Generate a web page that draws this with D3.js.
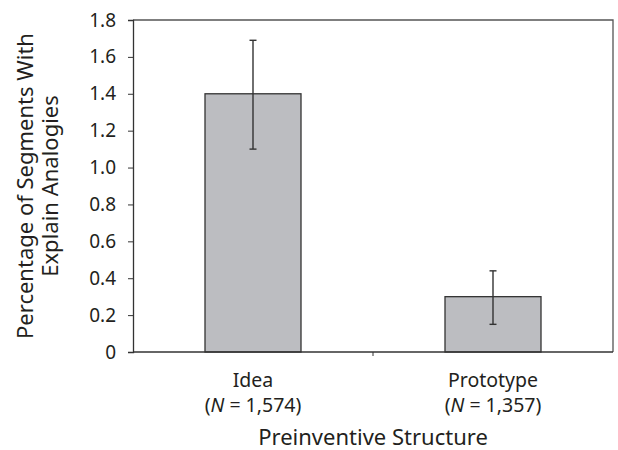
<!DOCTYPE html>
<html>
<head>
<meta charset="utf-8">
<script src="https://cdn.jsdelivr.net/npm/d3@7"></script>
<style>
  body { margin: 0; background: #fff; }
  text { font-family: "Noto Sans", sans-serif; fill: #231f20; }
</style>
</head>
<body>
<div id="chart"></div>
<script>
// chart values
const categories = ["Idea", "Prototype"];
const sampleSizes = ["1,574", "1,357"];
const means = [1.40, 0.30];
const errLow = [1.10, 0.15];
const errHigh = [1.69, 0.44];
const yTicks = [0, 0.2, 0.4, 0.6, 0.8, 1.0, 1.2, 1.4, 1.6, 1.8];
const yTickLabels = ["0", "0.2", "0.4", "0.6", "0.8", "1.0", "1.2", "1.4", "1.6", "1.8"];

const width = 618;
const height = 450;
const margin = { top: 20, right: 5, bottom: 98, left: 133 };
const innerW = width - margin.left - margin.right;
const innerH = height - margin.top - margin.bottom;

const data = categories.map((c, i) => ({
  cat: c, n: sampleSizes[i], mean: means[i], lo: errLow[i], hi: errHigh[i]
}));

const svg = d3.select("#chart")
  .append("svg")
  .attr("width", width)
  .attr("height", height);

const g = svg.append("g")
  .attr("transform", `translate(${margin.left}, ${margin.top})`);

const x = d3.scaleBand().domain(categories).range([0, innerW]).paddingInner(0.6).paddingOuter(0.3);
const y = d3.scaleLinear().domain([0, 1.8]).range([innerH, 0]);

// plot frame (top and right)
g.append("path")
  .attr("d", `M0,0H${innerW}V${innerH}`)
  .attr("fill", "none")
  .attr("stroke", "#555")
  .attr("stroke-width", 1.3);

// y axis
const yAxis = g.append("g")
  .call(d3.axisLeft(y).tickValues(yTicks).tickFormat((d, i) => yTickLabels[i]).tickSizeOuter(0).tickSize(5).tickPadding(12));
yAxis.select(".domain").attr("stroke", "#333").attr("stroke-width", 1.3);
yAxis.selectAll(".tick line").attr("stroke", "#333");
yAxis.selectAll("text").attr("font-size", 19).style("font-family", "Noto Sans").attr("fill", "#231f20");

// bars
g.selectAll(".bar")
  .data(data)
  .enter()
  .append("rect")
  .attr("class", "bar")
  .attr("x", d => x(d.cat))
  .attr("y", d => y(d.mean))
  .attr("width", x.bandwidth())
  .attr("height", d => innerH - y(d.mean))
  .attr("fill", "#bcbdc1")
  .attr("stroke", "#333")
  .attr("stroke-width", 1.3);

// error bars
const err = g.selectAll(".err")
  .data(data)
  .enter()
  .append("g")
  .attr("class", "err")
  .attr("stroke", "#333")
  .attr("stroke-width", 1.4);

const cx = d => x(d.cat) + x.bandwidth() / 2;
err.append("line")
  .attr("x1", cx).attr("x2", cx)
  .attr("y1", d => y(d.lo)).attr("y2", d => y(d.hi));
err.append("line")
  .attr("x1", d => cx(d) - 3.5).attr("x2", d => cx(d) + 3.5)
  .attr("y1", d => y(d.hi)).attr("y2", d => y(d.hi));
err.append("line")
  .attr("x1", d => cx(d) - 3.5).attr("x2", d => cx(d) + 3.5)
  .attr("y1", d => y(d.lo)).attr("y2", d => y(d.lo));

// x axis (line with tick between categories)
const xAxis = g.append("g").attr("transform", `translate(0, ${innerH})`);
xAxis.append("line")
  .attr("x1", 0).attr("x2", innerW)
  .attr("stroke", "#333").attr("stroke-width", 1.3);
xAxis.append("line")
  .attr("x1", innerW / 2).attr("x2", innerW / 2)
  .attr("y1", 0).attr("y2", 4)
  .attr("stroke", "#333");

// category labels
const lab = xAxis.selectAll(".lab")
  .data(data)
  .enter()
  .append("text")
  .attr("class", "lab")
  .attr("text-anchor", "middle")
  .attr("font-size", 19.5)
  .attr("x", cx);
lab.append("tspan").attr("x", cx).attr("y", 35).text(d => d.cat);
const nl = lab.append("tspan").attr("x", cx).attr("y", 60);
nl.append("tspan").text("(");
nl.append("tspan").attr("font-style", "italic").text("N");
nl.append("tspan").text(d => " = " + d.n + ")");

// axis titles
g.append("text")
  .attr("x", innerW / 2)
  .attr("y", innerH + 93)
  .attr("text-anchor", "middle")
  .attr("font-size", 22)
  .text("Preinventive Structure");

const yt = g.append("text")
  .attr("transform", `translate(${-133 + 33}, ${innerH / 2}) rotate(-90)`)
  .attr("text-anchor", "middle")
  .attr("font-size", 22);
yt.append("tspan").attr("x", 0).attr("y", 0).text("Percentage of Segments With");
yt.append("tspan").attr("x", 0).attr("y", 25).text("Explain Analogies");
</script>
</body>
</html>
